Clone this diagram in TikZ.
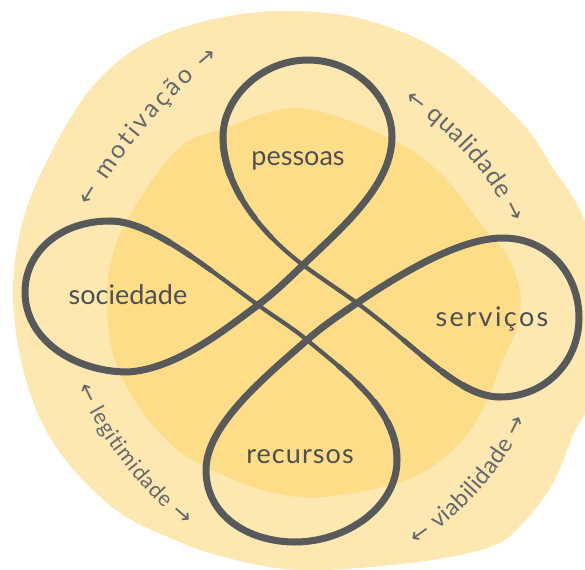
\documentclass[tikz,border=0pt]{standalone}
\usepackage{fontspec}
\setmainfont{Lato}
\newfontfamily\arrowfont{DejaVu Sans}
\usetikzlibrary{decorations.text}

\definecolor{outerfill}{HTML}{FDE8B1}
\definecolor{innerfill}{HTML}{FDDD87}
\definecolor{ink}{HTML}{58595B}
\definecolor{labelink}{HTML}{4E4F53}
\definecolor{arcink}{HTML}{67686D}

\newcommand\arcwordfont{\fontsize{25}{25}\selectfont\color{arcink}}
\newcommand\arcwordfontmid{\fontsize{23.5}{23.5}\selectfont\color{arcink}}
\newcommand\arcwordfontnarrow{\fontsize{21.5}{21.5}\selectfont\color{arcink}}
\newcommand\arcarrowfont{\arrowfont\fontsize{23}{23}\selectfont\color{arcink}}

\begin{document}
\begin{tikzpicture}[x=1pt,y=-1pt,
  knot/.style={draw=ink, line cap=round, line join=round},
  heavy stroke/.style={knot, line width=7pt},
  light stroke/.style={knot, line width=4.2pt},
  taper/.style={draw=ink, line cap=butt, line width=#1},
  looplabel/.style={text=labelink, font=\fontsize{27}{27}\selectfont, anchor=base, inner sep=0pt},
  arclabel/.style={decorate, decoration={text along path, text align=fit to path, raise=-6.5pt, text={#1}}}
]
\useasboundingbox (0,0) rectangle (585,569);
\clip (0,0) rectangle (585,569);

% background blobs
\fill[outerfill] plot[smooth cycle, tension=0.6] coordinates {
  (298,11) (373,22) (448,56) (522,123) (552,167) (580,210) (596,260)
  (600,330) (590,400) (573,435) (553,483) (523,523) (490,547) (410,563)
  (300,570) (224,557) (168,537) (112,507) (56,447) (26,380) (13,299)
  (22,224) (49,157) (93,86) (149,41) (224,17)};
\fill[innerfill] plot[smooth cycle, tension=0.6] coordinates {
  (300,108) (387,137) (440,173) (483,227) (507,255) (520,293) (517,327)
  (500,367) (485,405) (455,448) (400,482) (298,497) (205,467) (157,430)
  (123,380) (110,340) (107,300) (110,267) (127,220) (177,150) (225,128)};

% crossings of the knot
\coordinate (T) at (303,265);
\coordinate (R) at (357,303);
\coordinate (B) at (307,340);
\coordinate (L) at (258,305);
% extreme points of the four loops
\coordinate (TR) at (392,137);
\coordinate (TT) at (308,60);
\coordinate (TL) at (223,137);
\coordinate (RB) at (500,397);
\coordinate (RR) at (579,318);
\coordinate (RT) at (503,238);
\coordinate (BL) at (206,470);
\coordinate (BB) at (295,542);
\coordinate (BR) at (397,460);
\coordinate (LT) at (110,221);
\coordinate (LL) at (25,292);
\coordinate (LB) at (128,372);

% heavy parts of the stroke
\draw[heavy stroke] (LT) .. controls (60,221) and (25,252) .. (LL)
  .. controls (25,340) and (75,372) .. (LB)
  .. controls (175,369) and (222,332) .. (L)
  .. controls (274,293) and (288.6,278.8) .. (T)
  .. controls (342.6,227) and (392,185) .. (TR)
  .. controls (392,97) and (355,60) .. (TT)
  .. controls (262,60) and (223,97) .. (TL);
\draw[heavy stroke] (RB) .. controls (545,397) and (579,362) .. (RR)
  .. controls (579,274) and (548,238) .. (RT)
  .. controls (462,238) and (406.8,269.4) .. (R)
  .. controls (339.6,314.8) and (322.8,326.1) .. (B)
  .. controls (265.75,376.3) and (206,425) .. (BL)
  .. controls (206,517) and (250,542) .. (BB)
  .. controls (345,542) and (397,508) .. (BR);

% light parts of the stroke
\draw[light stroke] (TL) .. controls (223,185) and (259,232) .. (T)
  .. controls (320.6,278) and (339.2,290) .. (R)
  .. controls (417.8,347.3) and (458,397) .. (RB);
\draw[light stroke] (BR) .. controls (397,410) and (349.4,375.2) .. (B)
  .. controls (291.6,327.2) and (274.2,316.8) .. (L)
  .. controls (201.3,263.7) and (150,221) .. (LT);

% brush taper from heavy to light
\foreach \w/\len in {7.0/40, 6.3/65, 5.6/90, 4.9/115} {
  \draw[taper=\w pt, dash pattern=on \len pt off 600pt]
    (TL) .. controls (223,185) and (259,232) .. (T);
  \draw[taper=\w pt, dash pattern=on \len pt off 600pt]
    (RB) .. controls (458,397) and (417.8,347.3) .. (R);
  \draw[taper=\w pt, dash pattern=on \len pt off 600pt]
    (BR) .. controls (397,410) and (349.4,375.2) .. (B);
  \draw[taper=\w pt, dash pattern=on \len pt off 600pt]
    (LT) .. controls (150,221) and (201.3,263.7) .. (L);
}

% loop labels
\node[looplabel] (pessoas) at (298,166) {pessoas};
\node[looplabel] (sociedade) at (128,304) {sociedade};
\node[looplabel] (servicos) at (492,326) {\addfontfeature{LetterSpace=9}serviços};
\node[looplabel] (recursos) at (300,463) {\addfontfeature{LetterSpace=4}recursos};

% curved labels between the loops
\coordinate (motA) at (84,203);
\coordinate (motB) at (214,52);
\coordinate (quaA) at (408,95);
\coordinate (quaB) at (518,220);
\coordinate (legA) at (83,385);
\coordinate (legB) at (189,521);
\coordinate (viaA) at (413,540);
\coordinate (viaB) at (520,417);

\path[arclabel={|\arcarrowfont|←|\arcwordfont| motivação |\arcarrowfont|→}]
  (motA) .. controls (118.4,145.8) and (162.1,94) .. (motB);
\path[arclabel={|\arcarrowfont|←|\arcwordfont| qualidade |\arcarrowfont|→}]
  (quaA) .. controls (453.9,127.1) and (494.3,169.3) .. (quaB);
\path[arclabel={|\arcarrowfont|←|\arcwordfontnarrow| legitimidade |\arcarrowfont|→}]
  (legA) .. controls (107.5,437.5) and (144.7,484.7) .. (legB);
\path[arclabel={|\arcarrowfont|←|\arcwordfontmid| viabilidade |\arcarrowfont|→}]
  (viaA) .. controls (460.5,508.5) and (496.5,467.5) .. (viaB);
\end{tikzpicture}
\end{document}
